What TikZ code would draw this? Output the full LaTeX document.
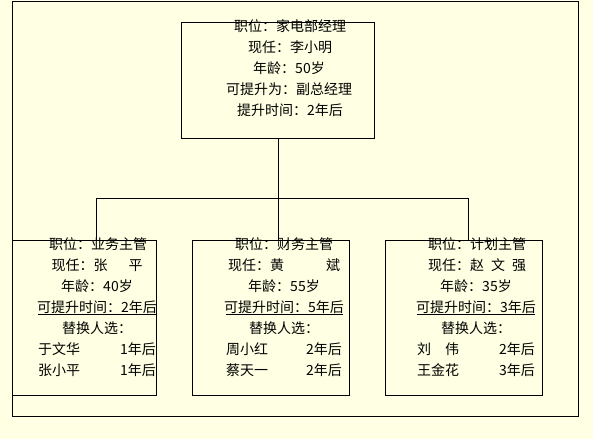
\documentclass[tikz,border=0pt]{standalone}
\usepackage{fontspec}
\setmainfont{Noto Sans CJK SC}
\definecolor{bg}{HTML}{FFFFE4}
\begin{document}
\begin{tikzpicture}[x=1pt,y=-1pt,
  font=\fontsize{14}{16}\selectfont,
  box/.style={draw, line width=1pt, inner sep=0pt, anchor=north west},
  ln/.style={inner sep=0pt},
  lnl/.style={inner sep=0pt, anchor=west},
  lnr/.style={inner sep=0pt, anchor=east},
  wire/.style={line width=1pt}]
\useasboundingbox[fill=bg] (0,0) rectangle (593,439);
% frame and boxes
\node[box, minimum width=566pt, minimum height=415pt] (frame) at (12,1) {};
\node[box, minimum width=193pt, minimum height=116pt] (top) at (181,22) {};
\node[box, minimum width=144pt, minimum height=155pt] (left) at (12,240) {};
\node[box, minimum width=157pt, minimum height=155pt] (mid) at (192,240) {};
\node[box, minimum width=157pt, minimum height=155pt] (right) at (385,240) {};
% connectors
\coordinate (jl) at (96,198);
\coordinate (jr) at (468,198);
\draw[wire] (top.south) -- (top.south |- jl);
\draw[wire] (jl |- left.north) -- (jl) -- (jr) -- (jr |- right.north);
\draw[wire] (top.south |- jl) -- (top.south |- mid.north);
% top box text
\node[ln] (t1) at (290,26) {职位：家电部经理};
\node[ln] (t2) at (290,47) {现任：李小明};
\node[ln] (t3) at (289,68) {年龄：50岁};
\node[ln] (t4) at (289,89) {可提升为：副总经理};
\node[ln] (t5) at (290,110) {提升时间：2年后};
% left box
\node[ln] (a1) at (98,244) {职位：业务主管};
\node[ln] (a2) at (97,265) {现任：张\hspace{1.5em}平};
\node[ln] (a3) at (97,286) {年龄：40岁};
\node[ln] (a4) at (97,307) {可提升时间：2年后};
\draw[wire] (38,314) -- (156,314);
\node[ln] (a5) at (97,328) {替换人选：};
\node[lnl] (a6) at (38,349) {于文华};
\node[lnr] (a6r) at (156,349) {1年后};
\node[lnl] (a7) at (38,370) {张小平};
\node[lnr] (a7r) at (156,370) {1年后};
% middle box
\node[ln] (b1) at (284,244) {职位：财务主管};
\node[ln] (b2) at (284,265) {现任：黄\hspace{3em}斌};
\node[ln] (b3) at (284,286) {年龄：55岁};
\node[ln] (b4) at (284,307) {可提升时间：5年后};
\draw[wire] (226,314) -- (343,314);
\node[ln] (b5) at (284,328) {替换人选：};
\node[lnl] (b6) at (226,349) {周小红};
\node[lnr] (b6r) at (342,349) {2年后};
\node[lnl] (b7) at (226,370) {蔡天一};
\node[lnr] (b7r) at (342,370) {2年后};
% right box
\node[ln] (c1) at (477,244) {职位：计划主管};
\node[ln] (c2) at (477,265) {现任：赵\hspace{0.5em}文\hspace{0.5em}强};
\node[ln] (c3) at (476,286) {年龄：35岁};
\node[ln] (c4) at (476,307) {可提升时间：3年后};
\draw[wire] (417,314) -- (535,314);
\node[ln] (c5) at (476,328) {替换人选：};
\node[lnl] (c6) at (417,349) {刘\hspace{1em}伟};
\node[lnr] (c6r) at (535,349) {2年后};
\node[lnl] (c7) at (417,370) {王金花};
\node[lnr] (c7r) at (535,370) {3年后};
\end{tikzpicture}
\end{document}
